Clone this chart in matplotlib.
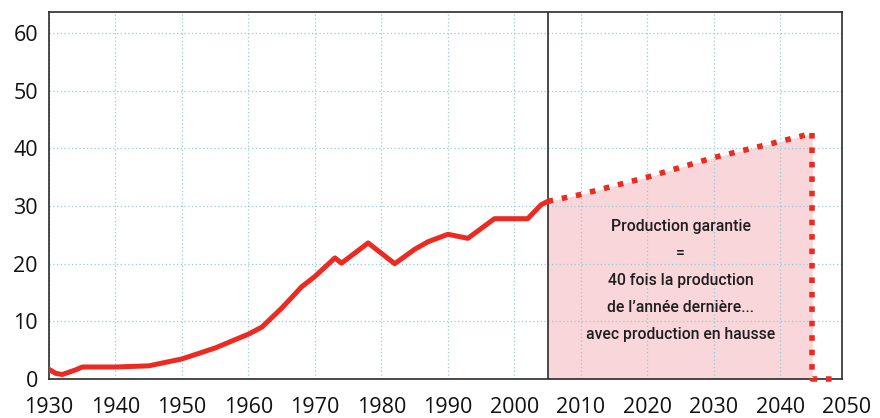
import matplotlib
matplotlib.use("Agg")
import matplotlib.pyplot as plt
import matplotlib.transforms as mtransforms

# ---- data ----
hist_years = [1930, 1931, 1932, 1934, 1935, 1940, 1945, 1950, 1955, 1960, 1962,
              1965, 1968, 1970, 1973, 1974, 1978, 1982, 1985, 1987, 1990, 1993,
              1997, 2002, 2004, 2005]
hist_prod = [1.7, 1.0, 0.8, 1.6, 2.1, 2.1, 2.3, 3.5, 5.4, 7.8, 9.0,
             12.3, 16.0, 17.8, 21.0, 20.1, 23.6, 20.0, 22.5, 23.8, 25.1, 24.4,
             27.8, 27.8, 30.2, 30.8]

proj_years = [2005, 2010, 2020, 2030, 2040, 2044.8]
proj_prod = [30.8, 32.0, 35.0, 38.4, 41.2, 42.6]

drop_years = [2044.8, 2044.8, 2048.3]
drop_prod = [42.6, 0.0, 0.0]

x_ticks = [1930, 1940, 1950, 1960, 1970, 1980, 1990, 2000, 2010, 2020, 2030, 2040]
extra_tick = 2050
y_ticks = [0, 10, 20, 30, 40, 50, 60]

annotation = ["Production garantie", "=", "40 fois la production",
              "de l\u2019année dernière...", "avec production en hausse"]

RED = "#ec2a22"
PINK = "#f9d6da"
GRID = "#93cdd8"
DARK = "#2b2b2b"
TICKFONT = ["Open Sans", "DejaVu Sans"]
XPAD = 13

fig = plt.figure(figsize=(8.8, 4.18), dpi=100)
ax = fig.add_axes([0.0557, 0.093, 0.9013, 0.878])

ax.set_xlim(1930, 2049.3)
ax.set_ylim(0, 63.6)

# fill under projection
ax.fill_between(proj_years + [drop_years[0]], proj_prod + [drop_prod[0]], 0,
                color=PINK, lw=0, zorder=0.3)

# grid
ax.set_xticks(x_ticks)
ax.set_yticks(y_ticks)
ax.grid(True, color=GRID, linestyle=(0, (1, 2)), linewidth=0.9)
ax.set_axisbelow(True)

# historical line
ax.plot(hist_years, hist_prod, color=RED, lw=3.6, solid_capstyle="round",
        solid_joinstyle="round", zorder=3)

# projection dotted
ax.plot(proj_years, proj_prod, color=RED, lw=4.0,
        linestyle=(0, (1, 1.6)), dash_capstyle="butt", zorder=3)
ax.plot(drop_years, drop_prod, color=RED, lw=4.0,
        linestyle=(0, (1, 1.6)), dash_capstyle="butt", zorder=3, clip_on=False)

# vertical separator at 2005
ax.axvline(2005, color=DARK, lw=1.2, zorder=2.5)

for s in ax.spines.values():
    s.set_color(DARK)
    s.set_linewidth(1.2)

ax.tick_params(length=0, labelsize=15.5, labelcolor="#111111")
ax.tick_params(axis="y", pad=8)
ax.tick_params(axis="x", pad=XPAD)
for lab in ax.get_xticklabels() + ax.get_yticklabels():
    lab.set_fontfamily(TICKFONT)
    lab.set_fontweight("medium")

trans = mtransforms.blended_transform_factory(ax.transData, ax.transAxes)
t = ax.text(extra_tick, 0, str(extra_tick), ha="center",
            va="top", fontsize=15.5, color="#111111", fontweight="medium",
            family=TICKFONT)
t.set_transform(trans + mtransforms.ScaledTranslation(0, -XPAD / 72, fig.dpi_scale_trans))

# annotation
ys = [26.5, 21.8, 17.1, 12.4, 7.7]
for txt, yv in zip(annotation, ys):
    ax.text(2025, yv, txt, ha="center", va="center", fontsize=11.3,
            color="#1e1e1e", fontweight="medium",
            family=["Liberation Sans Narrow", "Roboto", "DejaVu Sans"],
            zorder=4)

fig.savefig("out.png", dpi=100)
